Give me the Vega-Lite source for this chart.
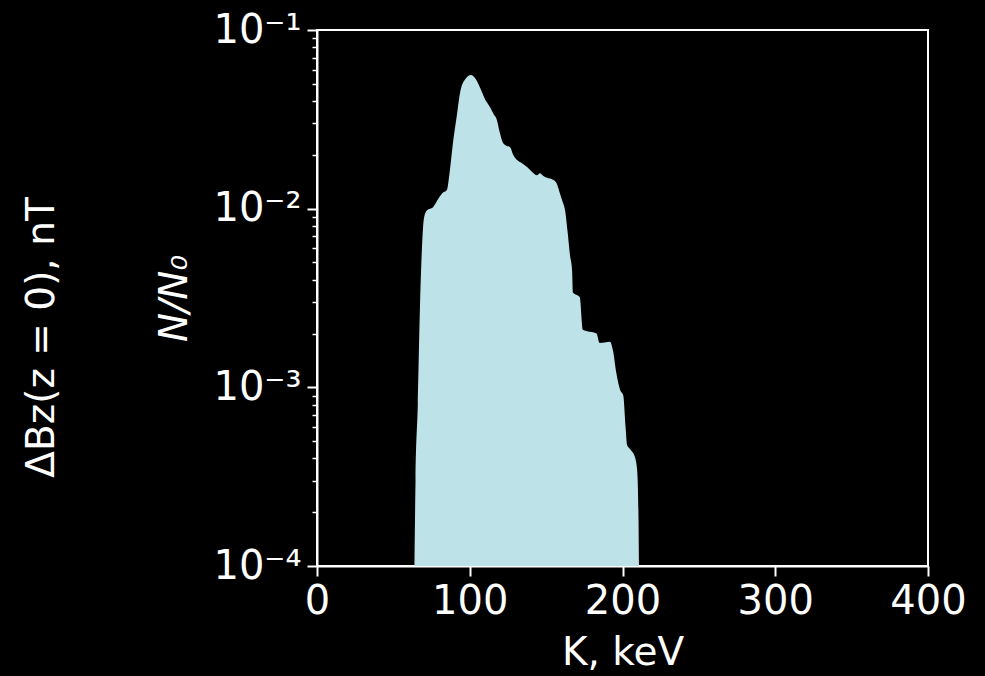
{
  "$schema": "https://vega.github.io/schema/vega-lite/v6.json",
  "width": 611,
  "height": 536,
  "autosize": {"type": "none"},
  "padding": {"left": 317, "top": 30, "right": 57, "bottom": 110},
  "background": "black",
  "config": {
    "view": {"stroke": "white", "strokeWidth": 2},
    "axis": {
      "domainColor": "white", "domainWidth": 2,
      "tickColor": "white", "tickWidth": 2,
      "labelColor": "white", "labelFont": "DejaVu Sans", "labelFontSize": 40,
      "labelFlush": false, "labelOverlap": false,
      "titleColor": "white", "titleFont": "DejaVu Sans", "titleFontSize": 39, "titleFontWeight": "normal",
      "grid": false
    }
  },
  "data": {"values": [
    {"K": 63.8, "N": 0.0001}, {"K": 64.5, "N": 0.0003}, {"K": 66, "N": 0.0008}, {"K": 67.5, "N": 0.003},
    {"K": 68.7, "N": 0.006}, {"K": 70, "N": 0.0088}, {"K": 72, "N": 0.0098}, {"K": 76, "N": 0.0102},
    {"K": 79, "N": 0.0112}, {"K": 82, "N": 0.0122}, {"K": 85, "N": 0.0127}, {"K": 87, "N": 0.0164},
    {"K": 89, "N": 0.0233}, {"K": 91.5, "N": 0.033}, {"K": 93.6, "N": 0.0443}, {"K": 97, "N": 0.053},
    {"K": 100.8, "N": 0.056}, {"K": 104, "N": 0.053}, {"K": 107, "N": 0.047}, {"K": 110, "N": 0.041},
    {"K": 113.3, "N": 0.037}, {"K": 115.5, "N": 0.034}, {"K": 117.8, "N": 0.0313}, {"K": 119.5, "N": 0.027},
    {"K": 121.8, "N": 0.0233}, {"K": 124, "N": 0.0225}, {"K": 126.4, "N": 0.0221}, {"K": 128.5, "N": 0.02},
    {"K": 131, "N": 0.0187}, {"K": 134, "N": 0.018}, {"K": 137.5, "N": 0.0171}, {"K": 141, "N": 0.016},
    {"K": 144, "N": 0.0154}, {"K": 146, "N": 0.0158}, {"K": 148, "N": 0.0153}, {"K": 150.6, "N": 0.0149},
    {"K": 154.5, "N": 0.0145}, {"K": 157, "N": 0.0138}, {"K": 159, "N": 0.0122}, {"K": 161, "N": 0.0108},
    {"K": 162.4, "N": 0.0098}, {"K": 164, "N": 0.0075}, {"K": 165.6, "N": 0.0055}, {"K": 167, "N": 0.0045},
    {"K": 167.6, "N": 0.0034}, {"K": 172, "N": 0.0032}, {"K": 174, "N": 0.0021}, {"K": 183, "N": 0.002},
    {"K": 185, "N": 0.00177}, {"K": 191.8, "N": 0.0018}, {"K": 193.8, "N": 0.0016}, {"K": 196, "N": 0.0012},
    {"K": 198.4, "N": 0.00097}, {"K": 200.5, "N": 0.0009}, {"K": 202, "N": 0.0006}, {"K": 203, "N": 0.000475},
    {"K": 205, "N": 0.00045}, {"K": 208, "N": 0.00041}, {"K": 209.5, "N": 0.00035}, {"K": 210, "N": 0.00029},
    {"K": 210.5, "N": 0.00018}, {"K": 210.8, "N": 0.0001}
  ]},
  "layer": [
    {
      "mark": {"type": "area", "color": "#bde3e8", "clip": true, "interpolate": "monotone"},
      "encoding": {
        "x": {"field": "K", "type": "quantitative",
              "scale": {"domain": [0, 400], "nice": false},
              "axis": {"values": [0, 100, 200, 300, 400], "tickSize": 10, "labelPadding": 5,
                       "title": "K, keV", "titlePadding": 12}},
        "y": {"field": "N", "type": "quantitative",
              "scale": {"type": "log", "domain": [0.0001, 0.1], "nice": false},
              "axis": {"orient": "left", "values": [0.0001, 0.001, 0.01, 0.1], "tickSize": 10, "labelPadding": 6,
                       "labelExpr": "'10' + ['⁰','⁻¹','⁻²','⁻³','⁻⁴'][-round(log(datum.value)/LN10)]",
                       "title": "N/N₀", "titleFontStyle": "italic", "titlePadding": 18}},
        "y2": {"datum": 0.0001}
      }
    },
    {
      "mark": {"type": "line", "opacity": 0},
      "encoding": {
        "x": {"field": "K", "type": "quantitative"},
        "y": {"field": "N", "type": "quantitative",
              "scale": {"type": "log", "domain": [0.0001, 0.1], "nice": false},
              "axis": {"orient": "left", "values": [0.0002, 0.0003, 0.0004, 0.0005, 0.0006, 0.0007, 0.0008, 0.0009, 0.002, 0.003, 0.004, 0.005, 0.006, 0.007, 0.008, 0.009, 0.02, 0.03, 0.04, 0.05, 0.06, 0.07, 0.08, 0.09],
                       "labels": false, "tickSize": 5, "tickWidth": 1.5, "domain": false, "title": null}}
      }
    },
    {
      "mark": {"type": "line", "opacity": 0},
      "encoding": {
        "x": {"field": "K", "type": "quantitative"},
        "y": {"field": "N", "type": "quantitative",
              "scale": {"type": "log", "domain": [0.0001, 0.1], "nice": false},
              "axis": {"orient": "left", "ticks": false, "labels": false, "domain": false,
                       "title": "ΔBz(z = 0), nT", "titleX": -276, "titleY": 307,
                       "titleAngle": 270, "titleAlign": "center", "titleBaseline": "middle"}}
      }
    }
  ],
  "resolve": {"scale": {"y": "independent"}, "axis": {"y": "independent"}}
}
